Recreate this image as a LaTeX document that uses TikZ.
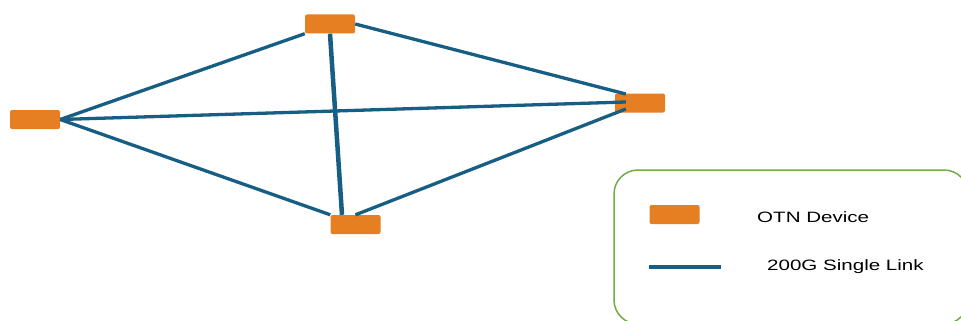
\documentclass[tikz,border=0pt]{standalone}
\usepackage{fontspec}
\setmainfont{Liberation Sans}
\definecolor{otnorange}{RGB}{230,126,34}
\definecolor{linkblue}{RGB}{22,94,131}
\definecolor{legendgreen}{RGB}{112,173,71}
\tikzset{
  device/.style={rectangle,fill=otnorange,draw=none,rounded corners=2pt,inner sep=0pt,minimum width=50pt,minimum height=19pt},
  link/.style={linkblue,line width=3.3pt},
  legendtext/.style={anchor=west,inner sep=0pt,font=\fontsize{15}{18}\selectfont}
}

\begin{document}
\begin{tikzpicture}[x=1pt,y=-1pt]
            \useasboundingbox (0,0) rectangle (961,321);
            \node[device] (L) at (35,119.5){};
            \node[device] (T) at (330,24){};
            \node[device] (R) at (640,103){};
            \node[device] (B) at (355.5,224.5){};
            \draw[link] (L.east) -- (T.south west);
            \draw[link] (L.east) -- ([xshift=11pt,yshift=1pt]R.west);
            \draw[link] (L.east) -- (B.north west);
            \draw[link] (T.east) -- ([xshift=11pt,yshift=9pt]R.west);
            \draw[link,line width=4.5pt] (T.south) -- ([xshift=-13.5pt]B.north);
            \draw[link] (B.north) -- ([xshift=11pt,yshift=-6pt]R.west);
            % legend
            \draw[legendgreen,line width=1.5pt,rounded corners=24pt] (614,170) rectangle (968,324);
            \node[device] (KD) at (674.5,214.5){};
            \coordinate (KA) at (649,267);
            \coordinate (KB) at (721,267);
            \draw[link] (KA) -- (KB);
            \node[legendtext] (KDT) at (757,217) {\scalebox{1.37}[1]{OTN Device}};
            \node[legendtext] (KLT) at (767,267) {\scalebox{1.37}[1]{200G Single Link}};
        \end{tikzpicture}
\end{document}
